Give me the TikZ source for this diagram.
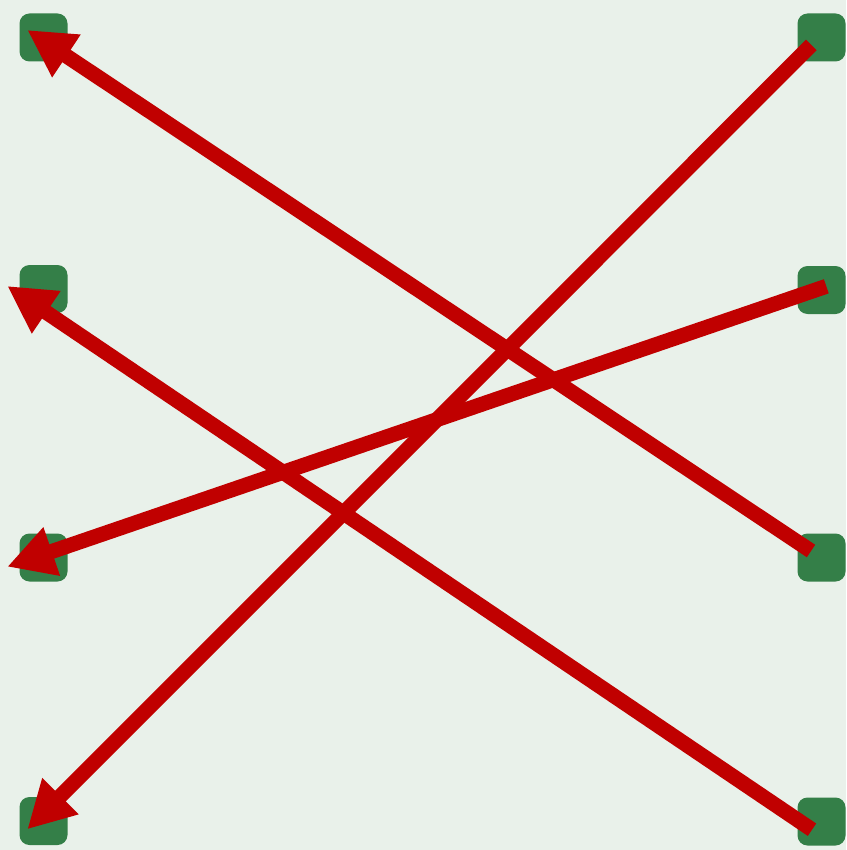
\documentclass[tikz,border=0pt]{standalone}
\usetikzlibrary{arrows.meta}
\definecolor{bg}{HTML}{E9F1EA}
\definecolor{sq}{HTML}{347F48}
\definecolor{arr}{HTML}{C00000}
\begin{document}
\begin{tikzpicture}[x=1pt,y=-1pt,
  pad/.style={fill=sq,draw=none,rounded corners=10pt,minimum width=48pt,minimum height=48pt,inner sep=0pt,outer sep=0pt},
  link/.style={draw=arr,line width=15pt,-{Triangle[length=47pt,width=48pt]}}]
\fill[bg] (0,0) rectangle (846,850);
\useasboundingbox (0,0) rectangle (846,850);
% left pads
\node[pad] (L1) at (43.5,37.5) {};
\node[pad] (L2) at (43.5,289) {};
\node[pad] (L3) at (43.5,557.5) {};
\node[pad] (L4) at (43.5,821) {};
% right pads
\node[pad] (R1) at (821.5,37.5) {};
\node[pad] (R2) at (821.5,290) {};
\node[pad] (R3) at (821.5,557.5) {};
\node[pad] (R4) at (821.5,821.5) {};
% connector end points
\coordinate (s1) at (811,551);
\coordinate (t1) at (27.3,30);
\coordinate (s2) at (811.3,45);
\coordinate (t2) at (27.3,829.3);
\coordinate (s3) at (826.3,286.3);
\coordinate (t3) at (7.3,566.7);
\coordinate (s4) at (812,829.7);
\coordinate (t4) at (7.3,286);
\draw[link] (s1) -- (t1);
\draw[link] (s2) -- (t2);
\draw[link] (s3) -- (t3);
\draw[link] (s4) -- (t4);
\end{tikzpicture}
\end{document}
